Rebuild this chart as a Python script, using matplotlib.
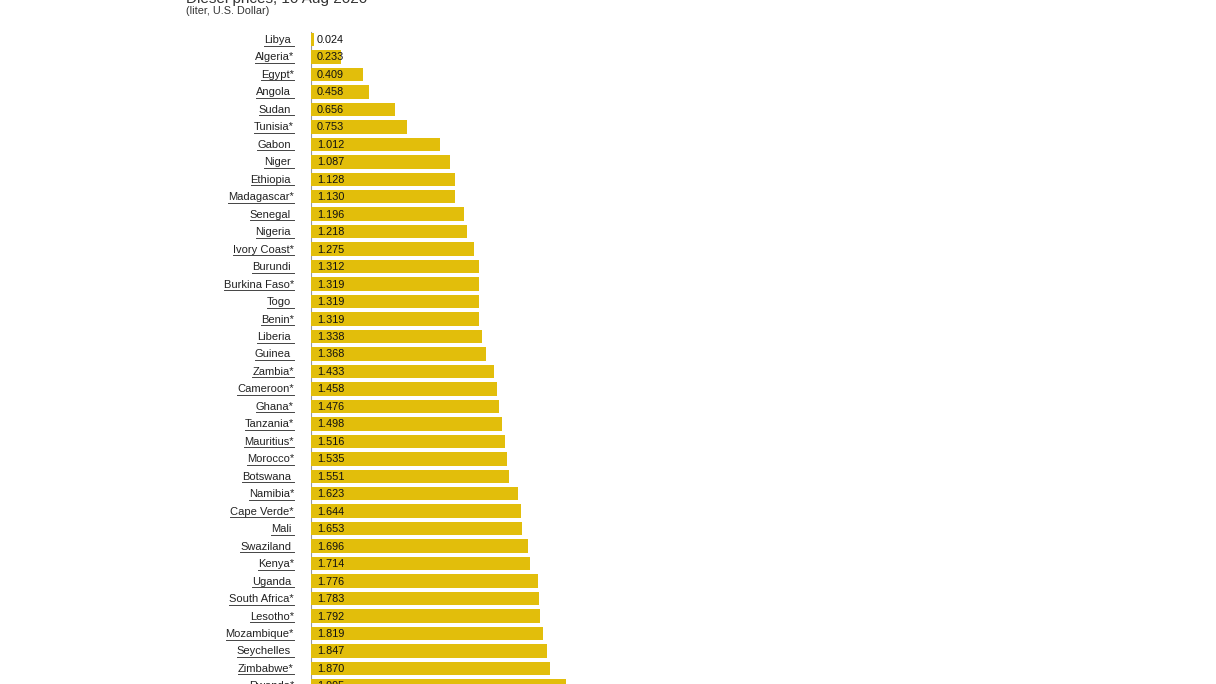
import matplotlib
matplotlib.use("Agg")
import matplotlib.pyplot as plt
import matplotlib.transforms as mtransforms
from matplotlib.lines import Line2D

plt.rcParams["font.family"] = ["Liberation Sans", "DejaVu Sans"]

# ── Data ──────────────────────────────────────────────────────────────────────
countries = [
    "Libya", "Algeria*", "Egypt*", "Angola", "Sudan", "Tunisia*", "Gabon",
    "Niger", "Ethiopia", "Madagascar*", "Senegal", "Nigeria", "Ivory Coast*",
    "Burundi", "Burkina Faso*", "Togo", "Benin*", "Liberia", "Guinea",
    "Zambia*", "Cameroon*", "Ghana*", "Tanzania*", "Mauritius*", "Morocco*",
    "Botswana", "Namibia*", "Cape Verde*", "Mali", "Swaziland", "Kenya*",
    "Uganda", "South Africa*", "Lesotho*", "Mozambique*", "Seychelles",
    "Zimbabwe*", "Rwanda*",
]
prices = [
    0.024, 0.233, 0.409, 0.458, 0.656, 0.753, 1.012,
    1.087, 1.128, 1.130, 1.196, 1.218, 1.275,
    1.312, 1.319, 1.319, 1.319, 1.338, 1.368,
    1.433, 1.458, 1.476, 1.498, 1.516, 1.535,
    1.551, 1.623, 1.644, 1.653, 1.696, 1.714,
    1.776, 1.783, 1.792, 1.819, 1.847,
    1.870, 1.995,
]
title = "Diesel prices, 10 Aug 2020"
subtitle = "(liter, U.S. Dollar)"

# ── Layout (pixels) ───────────────────────────────────────────────────────────
W, H, DPI = 1216, 684, 100
x0_px = 311          # bar origin
px_per_unit = 127.7
row0_px = 39.5       # centre of first row from top
pitch = 17.47

fig = plt.figure(figsize=(W / DPI, H / DPI), dpi=DPI)
ax = fig.add_axes([x0_px / W, 0, (W - x0_px) / W, 1])
ax.set_xlim(0, (W - x0_px) / px_per_unit)
ax.set_ylim((H - row0_px) / pitch, -row0_px / pitch)
ax.axis("off")

ypos = list(range(len(countries)))
ax.barh(ypos, prices, height=0.77, color="#E2BE0B", linewidth=0)
ax.plot([0, 0], [-0.45, len(countries)], color="#999999", lw=0.8, zorder=0)

# value labels inside bars
val_tr = ax.transData + mtransforms.ScaledTranslation(6 / DPI, 0, fig.dpi_scale_trans)
for y, v in zip(ypos, prices):
    ax.text(0, y + 0.03, f"{v:.3f}", transform=val_tr, ha="left", va="center",
            fontsize=7.8, color="#111111")

# country labels, right aligned; unstarred names carry a trailing space
space_px = 3
labels = []
for y, name in zip(ypos, countries):
    shift = -17 if name.endswith("*") else -17 - space_px
    tr = ax.transData + mtransforms.ScaledTranslation(shift / DPI, 0, fig.dpi_scale_trans)
    t = ax.text(0, y + 0.03, name, transform=tr, ha="right", va="center",
                fontsize=8, color="#222222")
    labels.append((t, name.endswith("*")))

fig.text(186 / W, 1 - 2.5 / H, title, ha="left", va="baseline",
         fontsize=11, color="#333333")
fig.text(186 / W, 1 - 10.5 / H, subtitle, ha="left", va="center",
         fontsize=7.8, color="#333333")

# underline the country names
fig.canvas.draw()
renderer = fig.canvas.get_renderer()
for t, starred in labels:
    bb = t.get_window_extent(renderer)
    x1 = bb.x1 + (0 if starred else space_px)
    yl = bb.y0 - 0.5
    fig.add_artist(Line2D([bb.x0 / W, x1 / W], [yl / H, yl / H],
                          transform=fig.transFigure, color="#444444", lw=0.7))

fig.savefig("out.png", dpi=DPI)
